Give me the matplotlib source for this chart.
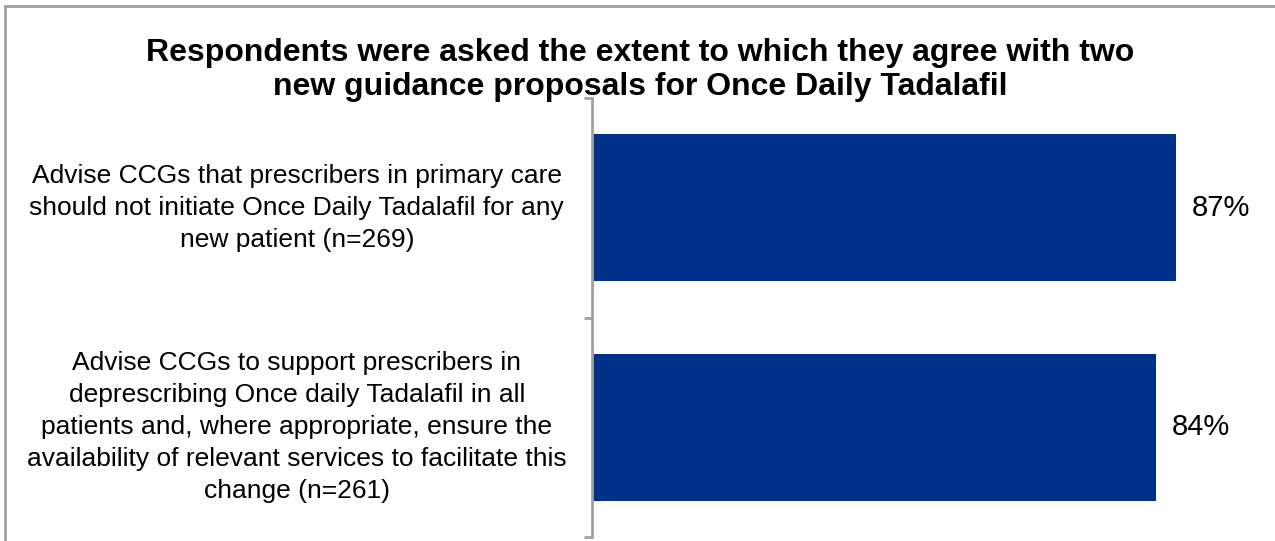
import matplotlib.pyplot as plt
from matplotlib.patches import Rectangle
from matplotlib.transforms import blended_transform_factory

plt.rcParams["font.family"] = ["Liberation Sans", "DejaVu Sans"]

# Data
categories = [
    "Advise CCGs that prescribers in primary care\nshould not initiate Once Daily Tadalafil for any\nnew patient (n=269)",
    "Advise CCGs to support prescribers in\ndeprescribing Once daily Tadalafil in all\npatients and, where appropriate, ensure the\navailability of relevant services to facilitate this\nchange (n=261)",
]
agree_pct = [87, 84]

BAR_COLOR = "#003087"
AXIS_COLOR = "#a0a0a0"

fig = plt.figure(figsize=(12.75, 5.41), dpi=100)
ax = fig.add_axes([592 / 1275, 1 - 537 / 541, 671 / 1275, 439 / 541])

ypos = list(range(len(categories)))
bars = ax.barh(ypos, agree_pct, height=0.67, color=BAR_COLOR)

ax.set_xlim(0, 100)
ax.set_ylim(len(categories) - 0.5, -0.5)

for bar, val in zip(bars, agree_pct):
    ax.annotate(f"{val}%", (bar.get_width(), bar.get_y() + bar.get_height() / 2),
                xytext=(16, 0), textcoords="offset pixels",
                ha="left", va="center", fontsize=21)

# category labels, centred as a block left of the axis
trans = blended_transform_factory(ax.transAxes, ax.transData)
for y, text in zip(ypos, categories):
    ax.text(-0.44, y, text, transform=trans, ha="center", va="center",
            multialignment="center", fontsize=19, linespacing=1.42)

# axis styling
for side in ["top", "right", "bottom"]:
    ax.spines[side].set_visible(False)
ax.spines["left"].set_color(AXIS_COLOR)
ax.spines["left"].set_linewidth(2)
ax.set_xticks([])
ax.set_yticks([])
ax.set_yticks([-0.5, 0.5, 1.5], minor=True)
ax.tick_params(axis="y", which="minor", length=6, width=2, color=AXIS_COLOR, labelleft=False)

fig.text(640 / 1275, 1 - 70 / 541,
         "Respondents were asked the extent to which they agree with two\nnew guidance proposals for Once Daily Tadalafil",
         ha="center", va="center", fontsize=23, fontweight="bold", linespacing=1.2)

# outer chart border (cropped on right and bottom)
fig.patches.append(Rectangle((5 / 1275, -0.1), 1.2, 1 - 6 / 541 + 0.1,
                             transform=fig.transFigure, fill=False,
                             edgecolor=AXIS_COLOR, linewidth=2))

fig.savefig("out.png", dpi=100)
